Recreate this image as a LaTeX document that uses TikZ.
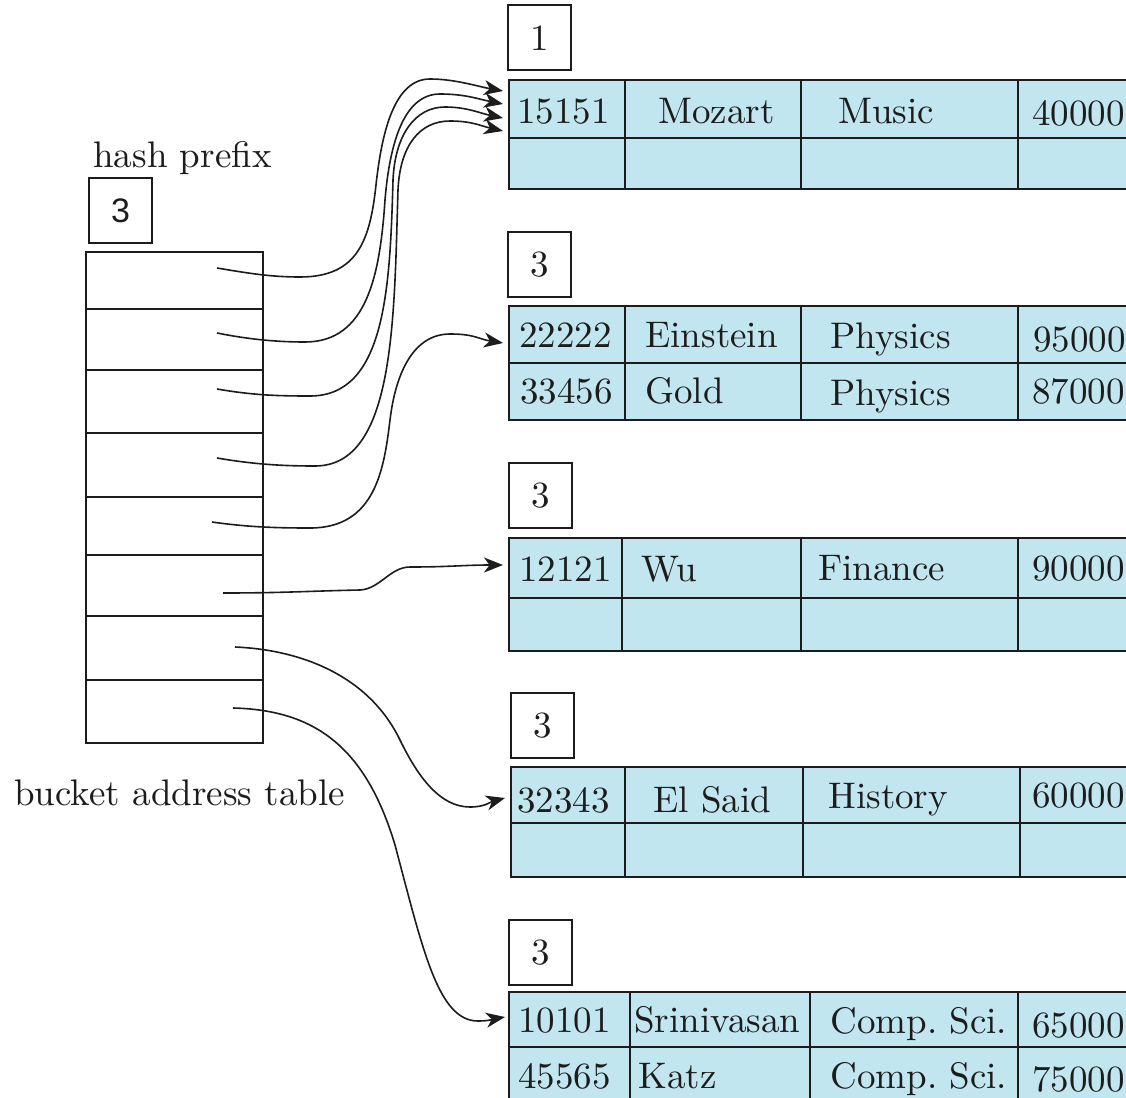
\documentclass[tikz,border=0pt]{standalone}
\usepackage{fontspec}
\setmainfont{lmroman10-regular.otf}
\newfontfamily\hsans{Liberation Sans}
\usetikzlibrary{arrows.meta}
\definecolor{cellblue}{RGB}{194,230,240}
\definecolor{ink}{RGB}{28,28,28}
\frenchspacing
\begin{document}
\begin{tikzpicture}[x=0.5pt,y=-0.5pt,
  txt/.style={inner sep=0pt, anchor=base west, font=\fontsize{18.5}{22}\selectfont\frenchspacing, text=ink},
  ctr/.style={inner sep=0pt, anchor=center, font=\fontsize{18.5}{22}\selectfont, text=ink},
  gridline/.style={draw=ink, line width=1pt},
  arr/.style={draw=ink, line width=0.8pt, -{Stealth[length=9.5pt,width=7.5pt,inset=2.8pt]}}]
\clip (0,0) rectangle (1126,1098);
\fill[white] (0,0) rectangle (1126,1098);

% ---------- bucket address table ----------
\node[txt] (hp) at (93,167) {hash prefix};
\draw[gridline] (89,178) rectangle (152,243);
\node[ctr, font=\hsans\fontsize{17}{20}\selectfont] (hpv) at (120.5,211) {3};
\draw[gridline] (86,252) rectangle (263,743);
\foreach \yy in {309,370,433,497,555,616,680} \draw[gridline] (86,\yy) -- (263,\yy);
\node[txt] (bat) at (14,805) {bucket address table};

% ---------- bucket 1 ----------
\draw[gridline] (508,5) rectangle (571,70);
\node[ctr] (d1) at (539.5,38) {1};
\fill[cellblue] (509,80) rectangle (1140,189);
\draw[gridline] (1140,80) -- (509,80) -- (509,189) -- (1140,189);
\draw[gridline] (509,138) -- (1140,138) (625,80) -- (625,189) (801,80) -- (801,189) (1018,80) -- (1018,189);
\node[txt] at (517,123) {15151};
\node[txt] at (658,123) {Mozart};
\node[txt] at (838,123) {Music};
\node[txt] at (1032,125) {40000};

% ---------- bucket 2 ----------
\draw[gridline] (508,232) rectangle (571,297);
\node[ctr] (d2) at (539.5,265) {3};
\fill[cellblue] (509,306) rectangle (1140,420);
\draw[gridline] (1140,306) -- (509,306) -- (509,420) -- (1140,420);
\draw[gridline] (509,363) -- (1140,363) (625,306) -- (625,420) (801,306) -- (801,420) (1018,306) -- (1018,420);
\node[txt] at (519,347) {22222};
\node[txt] at (645,347) {Einstein};
\node[txt] at (830,348) {Physics};
\node[txt] at (1033,351) {95000};
\node[txt] at (520,403) {33456};
\node[txt] at (645,403) {Gold};
\node[txt] at (830,405) {Physics};
\node[txt] at (1032,403) {87000};

% ---------- bucket 3 ----------
\draw[gridline] (509,463) rectangle (572,528);
\node[ctr] (d3) at (540.5,496) {3};
\fill[cellblue] (509,538) rectangle (1140,651);
\draw[gridline] (1140,538) -- (509,538) -- (509,651) -- (1140,651);
\draw[gridline] (509,598) -- (1140,598) (622,538) -- (622,651) (801,538) -- (801,651) (1018,538) -- (1018,651);
\node[txt] at (519,581) {12121};
\node[txt] at (641,581) {Wu};
\node[txt] at (818,580) {Finance};
\node[txt] at (1032,580) {90000};

% ---------- bucket 4 ----------
\draw[gridline] (511,693) rectangle (574,758);
\node[ctr] (d4) at (542.5,726) {3};
\fill[cellblue] (511,767) rectangle (1140,877);
\draw[gridline] (1140,767) -- (511,767) -- (511,877) -- (1140,877);
\draw[gridline] (511,823) -- (1140,823) (625,767) -- (625,877) (803,767) -- (803,877) (1020,767) -- (1020,877);
\node[txt] at (517,812) {32343};
\node[txt] at (653,812) {El Said};
\node[txt] at (828,808) {History};
\node[txt] at (1032,807) {60000};

% ---------- bucket 5 ----------
\draw[gridline] (509,920) rectangle (572,985);
\node[ctr] (d5) at (540.5,953) {3};
\fill[cellblue] (509,992) rectangle (1140,1110);
\draw[gridline] (1140,992) -- (509,992) -- (509,1110);
\draw[gridline] (509,1047) -- (1140,1047) (630,992) -- (630,1110) (810,992) -- (810,1110) (1018,992) -- (1018,1110);
\node[txt] at (518,1032) {10101};
\node[txt] at (634,1032) {Srinivasan};
\node[txt] at (830,1033) {Comp. Sci.};
\node[txt] at (1032,1037) {65000};
\node[txt] at (518,1088) {45565};
\node[txt] at (638,1088) {Katz};
\node[txt] at (830,1088) {Comp. Sci.};
\node[txt] at (1032,1091) {75000};

% ---------- pointer ends ----------
\coordinate (s1) at (217,268); \coordinate (e1) at (503,91);
\coordinate (s2) at (217,333); \coordinate (e2) at (503,104);
\coordinate (s3) at (217,389); \coordinate (e3) at (503,118);
\coordinate (s4) at (217,458); \coordinate (e4) at (503,131);
\coordinate (s5) at (212,522); \coordinate (e5) at (503,343);
\coordinate (s6) at (223,593); \coordinate (e6) at (503,565);
\coordinate (s7) at (235,647); \coordinate (e7) at (505,798);
\coordinate (s8) at (233,708); \coordinate (e8) at (505,1017);

% ---------- pointers ----------
\draw[arr] (s1) .. controls +(30,5) and +(-30,0) .. (300,277)
  .. controls +(58,0) and +(-6,55) .. (376,185)
  .. controls +(6,-55) and +(-35,0) .. (430,79)
  .. controls +(25,0) and +(-25,-4.5) .. (e1);
\draw[arr] (s2) .. controls +(30,6) and +(-30,0) .. (305,342)
  .. controls +(62,0) and +(-5,75) .. (385,200)
  .. controls +(5,-60) and +(-35,0) .. (440,94)
  .. controls +(25,0) and +(-25,-5) .. (e2);
\draw[arr] (s3) .. controls +(35,6) and +(-35,0) .. (310,396)
  .. controls +(75,0) and +(-3,110) .. (393,180)
  .. controls +(2,-45) and +(-30,0) .. (445,107)
  .. controls +(22,0) and +(-22,-4.5) .. (e3);
\draw[arr] (s4) .. controls +(35,6) and +(-35,0) .. (315,466)
  .. controls +(80,0) and +(-4,130) .. (398,190)
  .. controls +(2,-45) and +(-30,0) .. (450,121)
  .. controls +(22,0) and +(-22,-5) .. (e4);
\draw[arr] (s5) .. controls +(35,5) and +(-35,0) .. (310,528)
  .. controls +(65,0) and +(-6,50) .. (390,420)
  .. controls +(6,-50) and +(-35,0) .. (450,334)
  .. controls +(25,0) and +(-25,-4) .. (e5);
\draw[arr] (s6) .. controls +(60,0) and +(-50,1) .. (360,590)
  .. controls +(20,-1) and +(-20,0) .. (410,567)
  .. controls +(40,0) and +(-40,0) .. (e6);
\draw[arr] (s7) .. controls +(70,3) and +(-30,-62) .. (400,740)
  .. controls +(18,37) and +(-30,0) .. (470,807)
  .. controls +(15,0) and +(-15,4) .. (e7);
\draw[arr] (s8) .. controls +(80,2) and +(-30,-100) .. (395,845)
  .. controls +(28,105) and +(-40,0) .. (478,1021)
  .. controls +(12,0) and +(-12,2) .. (e8);
\end{tikzpicture}
\end{document}
